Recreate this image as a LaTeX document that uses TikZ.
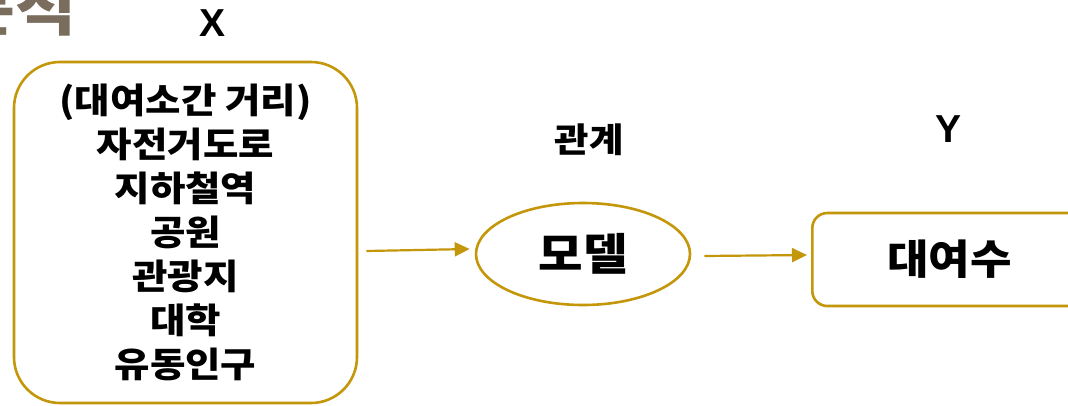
\documentclass[tikz,border=0pt]{standalone}
\usepackage{fontspec}
\setmainfont{Liberation Sans}
\newfontfamily\kr[FakeStretch=1.1]{Noto Sans CJK KR}
\usetikzlibrary{shapes.geometric,arrows.meta,calc}
\definecolor{gold}{RGB}{196,150,10}
\definecolor{heading}{RGB}{123,109,94}
\tikzset{
  boxline/.style={draw=gold, line width=2.6pt},
  arr/.style={draw=gold, line width=2.2pt, -{Triangle[length=15pt,width=14pt]}},
  krtext/.style={font=\kr\bfseries, text=black},
}
\begin{document}
\begin{tikzpicture}[x=1pt,y=-1pt]
\useasboundingbox[fill=white] (0,0) rectangle (1068,405);
% heading (cut off)
\node[anchor=base east, inner sep=0, text=heading, font={\kr\bfseries\fontsize{60}{60}\selectfont}] (head) at (76,30) {분석};
% X, Y labels
\node[font={\bfseries\fontsize{39}{39}\selectfont}] (xlab) at (213,23) {X};
\node[font={\bfseries\fontsize{39}{39}\selectfont}] (ylab) at (948,129) {Y};
\node[krtext, font={\kr\bfseries\fontsize{34}{34}\selectfont}] (rel) at (589,140) {관계};
% left box
\node[boxline, rounded corners=46pt, minimum width=343, minimum height=341, inner sep=0,
      align=center, krtext, font={\kr\bfseries\fontsize{35}{44}\selectfont}] (lbox) at (185.5,232.5)
  {(대여소간 거리)\\자전거도로\\지하철역\\공원\\관광지\\대학\\유동인구};
% model ellipse
\node[boxline, ellipse, minimum width=214, minimum height=102, inner sep=0,
      krtext, font={\kr\bfseries\fontsize{44}{44}\selectfont}] (model) at (583,254) {모델};
% right box (cut off)
\node[boxline, rounded corners=15pt, anchor=west, minimum height=93, inner xsep=0, inner ysep=0,
      text width=274, align=center, krtext, font={\kr\bfseries\fontsize{41}{41}\selectfont}] (ybox) at (811,259.5) {대여수};
% arrows
\draw[arr] ($(lbox.east)+(8,18.5)$) -- ($(model.west)+(-5,-5)$);
\draw[arr] ($(model.east)+(13,2)$) -- ($(ybox.west)+(-4,-4.5)$);
\end{tikzpicture}
\end{document}
